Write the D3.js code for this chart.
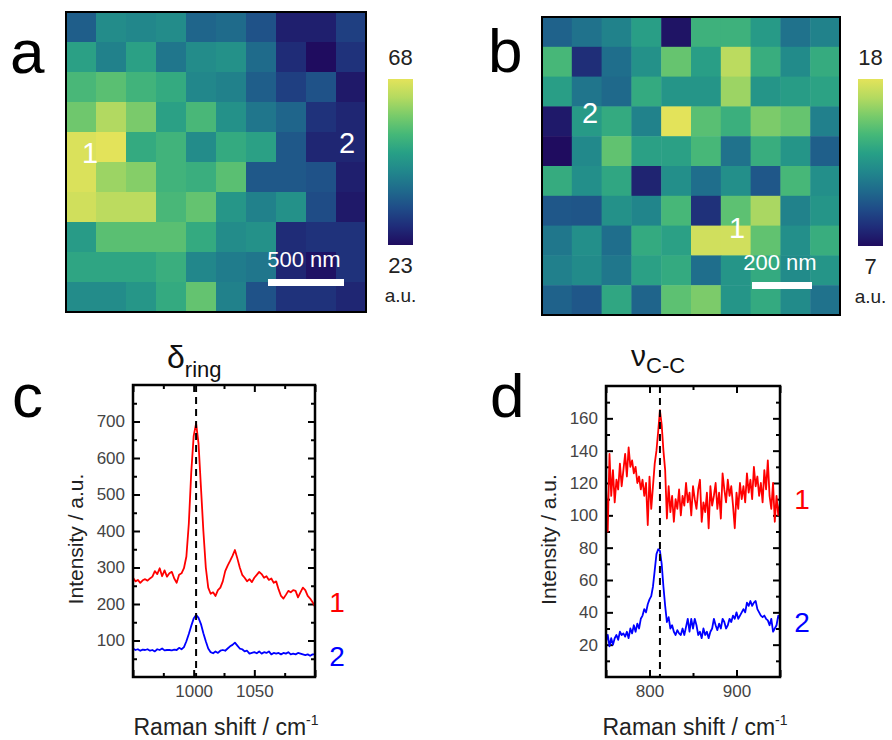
<!DOCTYPE html>
<html>
<head>
<meta charset="utf-8">
<script src="https://cdn.jsdelivr.net/npm/d3@7"></script>
<style>
  body { margin: 0; background: #fff; }
  svg { display: block; font-family: "Liberation Sans", Arial, sans-serif; }
</style>
</head>
<body>
<svg id="fig" width="892" height="740"></svg>
<script>
// ---- heat maps (10 x 10, rows top to bottom) ----
const mapA = [
  [36, 44, 43, 44, 37, 38, 34, 26, 26, 31],
  [48, 42, 48, 40, 44, 45, 38, 28, 23, 29],
  [53, 55, 52, 50, 43, 42, 36, 31, 34, 25],
  [57, 63, 58, 48, 53, 45, 40, 37, 29, 27],
  [67, 68, 50, 52, 44, 50, 48, 35, 27, 27],
  [67, 61, 59, 52, 51, 55, 35, 35, 34, 26],
  [66, 64, 64, 53, 56, 46, 42, 45, 33, 25],
  [47, 55, 55, 55, 50, 44, 45, 28, 29, 29],
  [49, 49, 49, 51, 43, 41, 40, 27, 24, 29],
  [44, 44, 46, 50, 56, 42, 34, 29, 29, 27]
];
const mapB = [
  [10.3, 11.0, 11.7, 13.0, 7.3, 14.0, 14.0, 12.8, 11.0, 11.7],
  [14.3, 8.3, 10.8, 12.4, 15.1, 13.0, 17.0, 13.8, 12.1, 13.7],
  [13.0, 11.1, 10.6, 13.6, 12.6, 12.6, 16.3, 12.6, 12.9, 13.2],
  [7.5, 12.8, 13.6, 11.7, 18.0, 14.8, 13.9, 15.6, 15.1, 11.6],
  [7.0, 12.0, 15.0, 13.1, 13.1, 14.3, 11.0, 13.8, 12.6, 10.2],
  [13.7, 12.3, 13.4, 7.9, 12.3, 10.8, 12.3, 9.9, 14.3, 12.3],
  [9.9, 9.8, 12.4, 11.8, 14.3, 8.4, 14.9, 16.6, 11.7, 12.6],
  [11.2, 12.3, 10.8, 13.6, 13.1, 17.5, 17.5, 15.0, 12.3, 13.8],
  [11.6, 12.1, 11.2, 13.1, 13.6, 10.8, 12.6, 13.6, 12.1, 12.6],
  [10.3, 9.9, 13.4, 10.4, 14.9, 15.6, 12.6, 13.6, 12.1, 11.0]
];
const rangeA = [23, 68];
const rangeB = [7, 18];
const cmapStops = ["#1f0c5f", "#1f2c79", "#1f4c88", "#1f6b8c", "#21878c",
                   "#27a086", "#45b878", "#78cb6a", "#b4da60", "#e3e35a"];

// ---- spectra, panel c (950..1100 cm-1, step 2) ----
const shiftC = d3.range(950, 1101, 2);
const specC1 = [272, 262, 266, 258, 265, 268, 264, 270, 275, 290, 282, 298, 276, 292, 275, 284,
  288, 270, 258, 280, 284, 298, 330, 420, 560, 660, 695, 640, 520, 400, 300, 245, 228, 232, 222,
  238, 245, 262, 290, 305, 318, 332, 348, 325, 300, 280, 272, 262, 268, 260, 272, 280, 288, 282,
  272, 276, 266, 270, 258, 262, 240, 222, 215, 225, 236, 232, 238, 236, 218, 232, 245, 238, 222,
  215, 205, 192];
const specC2 = [78, 74, 76, 72, 75, 74, 76, 72, 74, 70, 76, 74, 78, 73, 74, 74, 73, 75, 74, 80,
  76, 82, 98, 118, 140, 160, 170, 162, 145, 120, 98, 78, 68, 65, 70, 66, 72, 74, 72, 78, 84, 88,
  94, 86, 78, 76, 70, 72, 64, 66, 68, 65, 70, 64, 68, 66, 70, 62, 66, 64, 66, 62, 66, 64, 68, 62,
  64, 62, 66, 64, 62, 60, 62, 58, 62, 62];

// ---- spectra, panel d (750..950 cm-1, step 2) ----
const shiftD = d3.range(750, 951, 2);
const specD1 = [118, 90, 138, 112, 128, 108, 122, 116, 132, 118, 128, 138, 124, 142, 130, 134,
  126, 130, 120, 124, 116, 122, 112, 120, 94, 124, 104, 118, 132, 140, 152, 165, 156, 140, 128,
  98, 118, 102, 112, 96, 110, 104, 116, 100, 112, 106, 120, 108, 114, 100, 118, 110, 104, 116,
  122, 96, 108, 102, 114, 92, 118, 106, 112, 120, 104, 114, 98, 126, 116, 108, 122, 112, 118,
  106, 92, 114, 104, 120, 110, 118, 108, 126, 114, 122, 110, 130, 118, 124, 112, 120, 108, 128,
  116, 134, 112, 104, 120, 96, 112, 100, 108];
const specD2 = [22, 26, 19, 24, 20, 24, 26, 23, 28, 26, 27, 25, 28, 24, 30, 27, 32, 28, 33, 30,
  36, 38, 42, 40, 45, 48, 50, 56, 66, 76, 79, 78, 70, 56, 44, 34, 37, 30, 32, 28, 26, 29, 27, 26,
  30, 26, 31, 36, 28, 36, 30, 36, 32, 26, 28, 24, 30, 26, 28, 24, 28, 30, 36, 32, 29, 33, 30, 36,
  34, 30, 32, 36, 34, 38, 36, 40, 36, 38, 40, 42, 40, 46, 44, 47, 44, 46, 47, 42, 40, 38, 37, 38,
  36, 35, 32, 36, 28, 30, 32, 38, 36];

// tick labels that are printed
const labelsC = { x: [1000, 1050], y: [100, 200, 300, 400, 500, 600, 700] };
const labelsD = { x: [800, 900], y: [20, 40, 60, 80, 100, 120, 140, 160] };

const svg = d3.select('#fig');
const cmap = d3.interpolateRgbBasis(cmapStops);

// gradient for colour bars
const grad = svg.append('defs').append('linearGradient')
  .attr('id', 'cbar').attr('x1', 0).attr('x2', 0).attr('y1', 1).attr('y2', 0);
cmapStops.forEach((c, i) => {
  grad.append('stop').attr('offset', i / (cmapStops.length - 1)).attr('stop-color', c);
});

function drawMap(values, range, box, marks, bar, cbar) {
  const color = d3.scaleSequential(cmap).domain(range);
  const xs = d3.scaleBand().domain(d3.range(10)).range([box.x, box.x + box.size]);
  const ys = d3.scaleBand().domain(d3.range(10)).range([box.y, box.y + box.size]);
  const g = svg.append('g');
  values.forEach((row, r) => {
    g.selectAll(null).data(row).join('rect')
      .attr('x', (d, c) => xs(c))
      .attr('y', ys(r))
      .attr('width', xs.bandwidth() + 0.5)
      .attr('height', ys.bandwidth() + 0.5)
      .attr('fill', (d) => color(d));
  });
  g.append('rect')
    .attr('x', box.x).attr('y', box.y)
    .attr('width', box.size).attr('height', box.size)
    .attr('fill', 'none').attr('stroke', '#000').attr('stroke-width', 2);

  marks.forEach((m) => {
    g.append('text').attr('x', m.x).attr('y', m.y)
      .attr('text-anchor', 'middle').attr('fill', '#fff')
      .attr('font-size', 29).text(m.t);
  });

  // scale bar
  g.append('rect').attr('x', bar.x0).attr('y', bar.y)
    .attr('width', bar.x1 - bar.x0).attr('height', 7).attr('fill', '#fff');
  g.append('text').attr('x', (bar.x0 + bar.x1) / 2 - 2).attr('y', bar.y - 12)
    .attr('text-anchor', 'middle').attr('fill', '#fff').attr('font-size', 22)
    .text(bar.label);

  // colour bar
  g.append('rect').attr('x', cbar.x).attr('y', cbar.y0)
    .attr('width', 25).attr('height', cbar.y1 - cbar.y0)
    .attr('fill', 'url(#cbar)');
  const cx = cbar.x + 12.5;
  g.append('text').attr('x', cx).attr('y', cbar.y0 - 14).attr('text-anchor', 'middle')
    .attr('font-size', 22).attr('fill', '#222').text(range[1]);
  g.append('text').attr('x', cx).attr('y', cbar.y1 + 28).attr('text-anchor', 'middle')
    .attr('font-size', 22).attr('fill', '#222').text(range[0]);
  g.append('text').attr('x', cx).attr('y', cbar.y1 + 57).attr('text-anchor', 'middle')
    .attr('font-size', 19).attr('fill', '#222').text('a.u.');
}

drawMap(mapA, rangeA, { x: 66, y: 12, size: 300 },
  [{ t: '1', x: 90, y: 163 }, { t: '2', x: 347, y: 153 }],
  { x0: 268, x1: 344, y: 279, label: '500 nm' },
  { x: 388, y0: 79, y1: 245 });

drawMap(mapB, rangeB, { x: 542, y: 17, size: 298 },
  [{ t: '2', x: 590, y: 123 }, { t: '1', x: 737, y: 238 }],
  { x0: 752, x1: 812, y: 282, label: '200 nm' },
  { x: 858, y0: 79, y1: 246 });

function drawSpectrum(o) {
  const x = d3.scaleLinear().domain(o.xDomain).range([o.left, o.right]);
  const y = d3.scaleLinear().domain(o.yDomain).range([o.bottom, o.top]);
  const g = svg.append('g');

  function ticks(axis, pos, vals, size, shown) {
    const a = axis.tickValues(vals).tickSize(-size).tickPadding(8)
      .tickFormat((d) => (shown && shown.includes(d) ? String(d) : ''));
    const ag = g.append('g').attr('transform', pos).call(a);
    ag.select('.domain').remove();
    ag.selectAll('line').attr('stroke', '#000').attr('stroke-width', 2);
    ag.selectAll('text').attr('font-size', 17).attr('fill', '#444')
      .style('font-family', '"Liberation Sans", Arial, sans-serif');
  }
  ticks(d3.axisBottom(x), `translate(0,${o.bottom})`, o.xMajor, 7, o.labels.x);
  ticks(d3.axisBottom(x), `translate(0,${o.bottom})`, o.xMinor, 4, null);
  ticks(d3.axisTop(x), `translate(0,${o.top})`, o.xMajor, 7, null);
  ticks(d3.axisTop(x), `translate(0,${o.top})`, o.xMinor, 4, null);
  ticks(d3.axisLeft(y), `translate(${o.left},0)`, o.yMajor, 7, o.labels.y);
  ticks(d3.axisLeft(y), `translate(${o.left},0)`, o.yMinor, 4, null);
  ticks(d3.axisRight(y), `translate(${o.right},0)`, o.yMajor, 7, null);
  ticks(d3.axisRight(y), `translate(${o.right},0)`, o.yMinor, 4, null);

  const line = d3.line().x((d) => x(d[0])).y((d) => y(d[1]));
  o.series.forEach((s) => {
    g.append('path')
      .datum(d3.zip(o.shift, s.values))
      .attr('d', line)
      .attr('fill', 'none')
      .attr('stroke', s.color)
      .attr('stroke-width', 1.8)
      .attr('stroke-linejoin', 'round');
    g.append('text').attr('x', o.right + 22).attr('y', y(s.labelAt) + 10)
      .attr('text-anchor', 'middle').attr('fill', s.color)
      .attr('font-size', 28).text(s.name);
  });

  g.append('line')
    .attr('x1', x(o.peak)).attr('x2', x(o.peak))
    .attr('y1', o.top).attr('y2', o.bottom)
    .attr('stroke', '#000').attr('stroke-width', 2)
    .attr('stroke-dasharray', '7,5');

  g.append('rect')
    .attr('x', o.left).attr('y', o.top)
    .attr('width', o.right - o.left).attr('height', o.bottom - o.top)
    .attr('fill', 'none').attr('stroke', '#000').attr('stroke-width', 2.5);

  // axis titles
  g.append('text')
    .attr('transform', `translate(${o.left - 50},${(o.top + o.bottom) / 2 + 8}) rotate(-90)`)
    .attr('text-anchor', 'middle').attr('font-size', 21).attr('fill', '#222')
    .text('Intensity / a.u.');
  const xt = g.append('text')
    .attr('x', (o.left + o.right) / 2 + 2).attr('y', 735)
    .attr('text-anchor', 'middle').attr('font-size', 23).attr('fill', '#222');
  xt.append('tspan').text('Raman shift / cm');
  xt.append('tspan').attr('dy', -10).attr('font-size', 14).text('-1');

  // band title
  const tt = g.append('text').attr('x', o.title.x).attr('y', o.title.y)
    .attr('font-size', o.title.size).attr('fill', '#111');
  tt.append('tspan').text(o.title.main);
  tt.append('tspan').attr('dy', o.title.dy).attr('font-size', 22).text(o.title.sub);
}

drawSpectrum({
  left: 133, right: 315, top: 385, bottom: 677,
  xDomain: [950, 1100], yDomain: [0, 800],
  xMajor: [950, 1000, 1050, 1100], xMinor: [975, 1025, 1075],
  yMajor: [100, 200, 300, 400, 500, 600, 700],
  yMinor: [50, 150, 250, 350, 450, 550, 650, 750],
  labels: labelsC,
  shift: shiftC, peak: 1002,
  series: [
    { name: '1', color: '#ff0000', values: specC1, labelAt: 205 },
    { name: '2', color: '#0000ff', values: specC2, labelAt: 58 }
  ],
  title: { x: 167, y: 368, size: 32, main: '\u03b4', sub: 'ring', dy: 9 }
});

drawSpectrum({
  left: 606, right: 780, top: 386, bottom: 677,
  xDomain: [750, 950], yDomain: [0, 180],
  xMajor: [750, 800, 900, 950], xMinor: [850],
  yMajor: [20, 40, 60, 80, 100, 120, 140, 160],
  yMinor: [10, 30, 50, 70, 90, 110, 130, 150, 170],
  labels: labelsD,
  shift: shiftD, peak: 812,
  series: [
    { name: '1', color: '#ff0000', values: specD1, labelAt: 110 },
    { name: '2', color: '#0000ff', values: specD2, labelAt: 34 }
  ],
  title: { x: 631, y: 366, size: 30, main: '\u03bd', sub: 'C-C', dy: 7 }
});

// panel letters
[['a', 10, 73], ['b', 488, 72], ['c', 12, 417], ['d', 490, 417]].forEach(([t, px, py]) => {
  svg.append('text').attr('x', px).attr('y', py).attr('font-size', 62)
    .attr('fill', '#000').text(t);
});
</script>
</body>
</html>
